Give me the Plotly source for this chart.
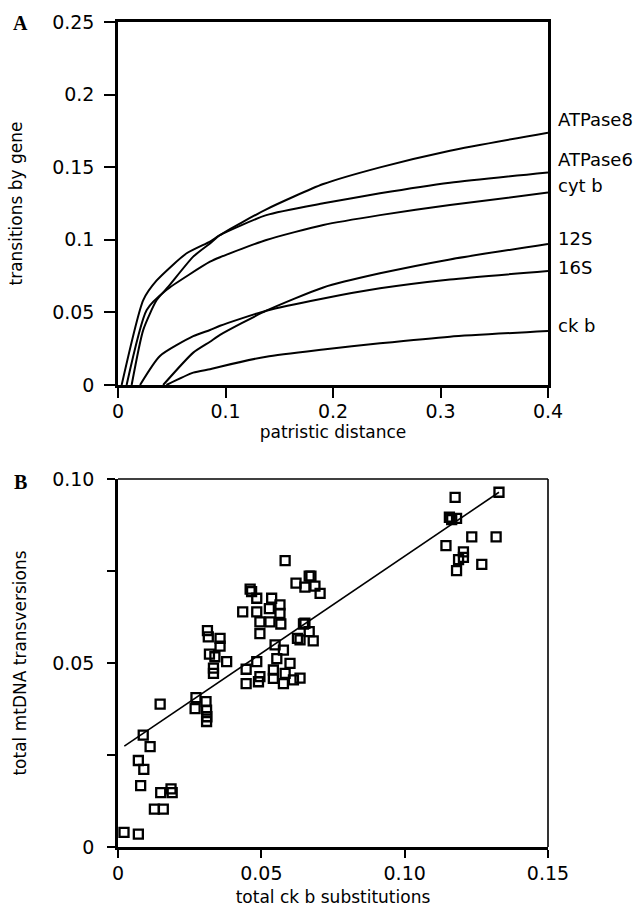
import plotly.graph_objects as go

# ---------------- Panel A data: transitions by gene vs patristic distance
atp8_x = [0.0127, 0.0235, 0.036, 0.0468, 0.070, 0.0856, 0.0949, 0.138, 0.191, 0.2437, 0.3088, 0.4]
atp8_y = [0.0, 0.038, 0.0585, 0.0677, 0.0884, 0.0975, 0.1033, 0.121, 0.1384, 0.1499, 0.1614, 0.1738]

atp6_x = [0.0034, 0.0235, 0.036, 0.0639, 0.0856, 0.0949, 0.138, 0.191, 0.2437, 0.3088, 0.4]
atp6_y = [0.0, 0.0585, 0.072, 0.0907, 0.0988, 0.1033, 0.117, 0.1251, 0.132, 0.1393, 0.1464]

cytb_x = [0.008, 0.0267, 0.045, 0.0856, 0.0949, 0.138, 0.191, 0.2437, 0.3088, 0.4]
cytb_y = [0.0, 0.0517, 0.0654, 0.0849, 0.0880, 0.0999, 0.1102, 0.117, 0.124, 0.1325]

s12_x = [0.042, 0.070, 0.0856, 0.0949, 0.138, 0.191, 0.2437, 0.3088, 0.4]
s12_y = [0.0, 0.0223, 0.0298, 0.0345, 0.0512, 0.0672, 0.0769, 0.0865, 0.0971]

s16_x = [0.0205, 0.039, 0.070, 0.0856, 0.0949, 0.138, 0.191, 0.2437, 0.3088, 0.4]
s16_y = [0.0, 0.020, 0.0336, 0.0379, 0.0408, 0.0512, 0.0596, 0.0666, 0.0727, 0.0785]

ckb_x = [0.045, 0.070, 0.0856, 0.0949, 0.138, 0.191, 0.2437, 0.3088, 0.4]
ckb_y = [0.0, 0.0085, 0.0108, 0.0126, 0.0195, 0.0244, 0.0287, 0.0333, 0.0372]

gene_names = ["ATPase8", "ATPase6", "cyt b", "12S", "16S", "ck b"]
label_shift_px = [13, 13, 7, 6, 4, 5]

a_xticks = [0, 0.1, 0.2, 0.3, 0.4]
a_yticks = [0, 0.05, 0.1, 0.15, 0.2, 0.25]

# ---------------- Panel B data: mtDNA transversions vs ck b substitutions
ckb_subs = [0.0021, 0.0071, 0.0079, 0.0071, 0.0090, 0.0112, 0.0088, 0.0147, 0.0127, 0.0158,
            0.0149, 0.0189, 0.0185,
            0.0272, 0.0269, 0.0307, 0.0309, 0.0309, 0.0310, 0.0312, 0.0315, 0.0356, 0.0356,
            0.0319, 0.0338, 0.0333, 0.0333, 0.0379,
            0.0461, 0.0466, 0.0435, 0.0484, 0.0484, 0.0495, 0.0495, 0.0536, 0.0528, 0.0530,
            0.0565, 0.0565, 0.0568, 0.0583, 0.0621, 0.0652, 0.0667, 0.0647, 0.0626, 0.0577,
            0.0548, 0.0554, 0.0600, 0.0447, 0.0484, 0.0447, 0.0495, 0.0490, 0.0542, 0.0542,
            0.0577, 0.0612, 0.0583,
            0.0652, 0.0667, 0.0681, 0.0635, 0.0673, 0.0687, 0.0705, 0.0635,
            0.1176, 0.1156, 0.1181, 0.1164, 0.1329, 0.1234, 0.1319, 0.1144, 0.1205, 0.1205,
            0.1188, 0.1269, 0.1181]
mt_tv = [0.0040, 0.0035, 0.0167, 0.0235, 0.0211, 0.0273, 0.0304, 0.0388, 0.0103, 0.0103,
         0.0148, 0.0148, 0.0158,
         0.0406, 0.0376, 0.0395, 0.0372, 0.0341, 0.0354, 0.0588, 0.0571, 0.0567, 0.0546,
         0.0524, 0.0517, 0.0486, 0.0472, 0.0504,
         0.0701, 0.0694, 0.0639, 0.0676, 0.0639, 0.0612, 0.0580, 0.0676, 0.0648, 0.0612,
         0.0658, 0.0635, 0.0606, 0.0778, 0.0717, 0.0706, 0.0736, 0.0606, 0.0567, 0.0535,
         0.0549, 0.0512, 0.0499, 0.0483, 0.0504, 0.0444, 0.0463, 0.0449, 0.0481, 0.0458,
         0.0444, 0.0454, 0.0472,
         0.0608, 0.0585, 0.0560, 0.0563, 0.0736, 0.0709, 0.0689, 0.0459,
         0.0950, 0.0896, 0.0893, 0.0890, 0.0964, 0.0843, 0.0843, 0.0819, 0.0802, 0.0787,
         0.0781, 0.0768, 0.0751]

fit_x = [0.0022, 0.1329]
fit_y = [0.0274, 0.0964]

b_xticks = [0, 0.05, 0.10, 0.15]
b_xticktext = ["0", "0.05", "0.10", "0.15"]
b_yticks = [0, 0.025, 0.05, 0.075, 0.10]
b_yticktext = ["0", "", "0.05", "", "0.10"]

# ---------------- figure
W, H = 640, 910
FONT = "DejaVu Sans, Verdana, sans-serif"
TICKFONT = dict(family=FONT, size=19, color="black")
TITLEFONT = dict(family=FONT, size=17, color="black")

fig = go.Figure()

curves = [(atp8_x, atp8_y), (atp6_x, atp6_y), (cytb_x, cytb_y),
          (s12_x, s12_y), (s16_x, s16_y), (ckb_x, ckb_y)]
for name, (xs, ys) in zip(gene_names, curves):
    fig.add_trace(go.Scatter(x=xs, y=ys, mode="lines", name=name,
                             line=dict(color="black", width=2, shape="spline", smoothing=0.6),
                             xaxis="x", yaxis="y", showlegend=False))

fig.add_trace(go.Scatter(x=ckb_subs, y=mt_tv, mode="markers",
                         marker=dict(symbol="square-open", size=9, color="black",
                                     line=dict(width=2.3, color="black")),
                         xaxis="x2", yaxis="y2", showlegend=False, cliponaxis=False))
fig.add_trace(go.Scatter(x=fit_x, y=fit_y, mode="lines",
                         line=dict(color="black", width=1.6),
                         xaxis="x2", yaxis="y2", showlegend=False))

xdom = [118 / W, 548 / W]
ydomA = [1 - 385 / H, 1 - 22 / H]
ydomB = [1 - 847 / H, 1 - 479 / H]

common = dict(showline=True, linecolor="black", showgrid=False,
              zeroline=False, ticks="outside", tickcolor="black", tickwidth=2,
              tickfont=TICKFONT, automargin=False)

fig.update_layout(
    width=W, height=H,
    margin=dict(l=0, r=0, t=0, b=0, autoexpand=False),
    paper_bgcolor="white", plot_bgcolor="white",
    font=dict(family=FONT, color="black"),
    xaxis=dict(domain=xdom, anchor="y", range=[0, 0.4], tickvals=a_xticks,
               ticklen=10, linewidth=2.5, ticklabelstandoff=-3, mirror=True,
               title=dict(text="patristic distance", font=TITLEFONT, standoff=4),
               **common),
    yaxis=dict(domain=ydomA, anchor="x", range=[0, 0.25], tickvals=a_yticks,
               ticklen=11, linewidth=2.5, ticklabelstandoff=6, mirror=True,
               title=dict(text="transitions by gene", font=TITLEFONT, standoff=26),
               **common),
    xaxis2=dict(domain=xdom, anchor="y2", range=[0, 0.15], tickvals=b_xticks,
                ticktext=b_xticktext, ticklen=8, linewidth=2.5, ticklabelstandoff=-1,
                mirror=False,
                title=dict(text="total ck b substitutions", font=TITLEFONT, standoff=9),
                **common),
    yaxis2=dict(domain=ydomB, anchor="x2", range=[0, 0.10], tickvals=b_yticks,
                ticktext=b_yticktext, ticklen=8, linewidth=2.5, ticklabelstandoff=9,
                mirror=False,
                title=dict(text="total mtDNA transversions", font=TITLEFONT, standoff=22),
                **common),
)

# thinner top and right frame lines of panel B
fig.add_shape(type="line", xref="x2 domain", yref="y2 domain", x0=0, x1=1, y0=1, y1=1,
              line=dict(color="black", width=1.6), layer="above")
fig.add_shape(type="line", xref="x2 domain", yref="y2 domain", x0=1, x1=1, y0=0, y1=1,
              line=dict(color="black", width=1.6), layer="above")

annotations = []
for name, (xs, ys), dy in zip(gene_names, curves, label_shift_px):
    annotations.append(dict(x=xs[-1], y=ys[-1], xref="x", yref="y", text=name,
                            showarrow=False, xanchor="left", yanchor="middle",
                            xshift=8, yshift=dy,
                            font=dict(family=FONT, size=18, color="black")))
annotations.append(dict(x=20 / W, y=1 - 23 / H, xref="paper", yref="paper", text="<b>A</b>",
                        showarrow=False, xanchor="center", yanchor="middle",
                        font=dict(family="Liberation Serif, Times New Roman, serif",
                                  size=20, color="black")))
annotations.append(dict(x=20 / W, y=1 - 482 / H, xref="paper", yref="paper", text="<b>B</b>",
                        showarrow=False, xanchor="center", yanchor="middle",
                        font=dict(family="Liberation Serif, Times New Roman, serif",
                                  size=20, color="black")))
fig.update_layout(annotations=annotations)

fig.write_html("out.html", config={"displayModeBar": False},
               post_script="document.body.style.margin='0';document.body.style.overflow='hidden';")
